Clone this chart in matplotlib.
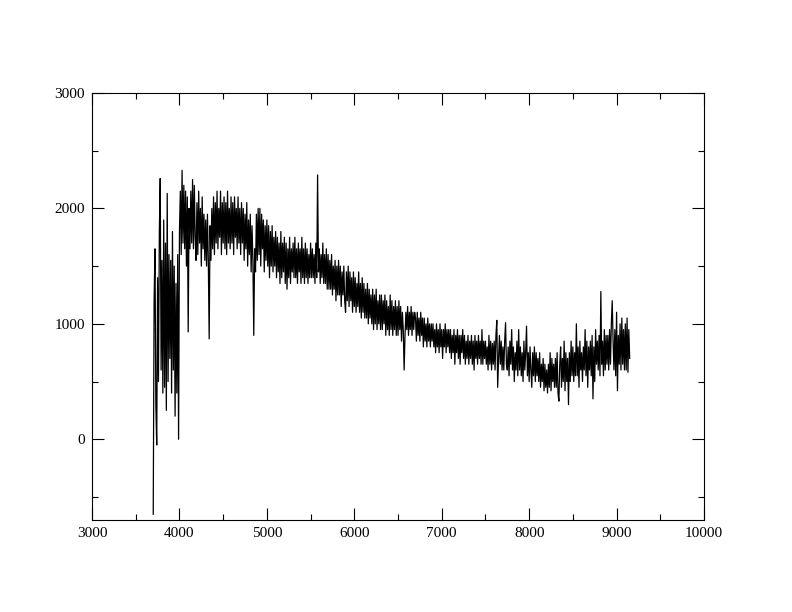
"""
Spectrum plot: flux vs wavelength, xmgrace-like look.
"""

import matplotlib
matplotlib.use("Agg")
import matplotlib.pyplot as plt
import numpy as np
from matplotlib.ticker import MultipleLocator

plt.rcParams["font.family"] = ["Liberation Serif", "DejaVu Serif"]

# ── data (10 A sampling starting at 3700 A) ──────────────────────────────────
WAVE_START = 3700
WAVE_STEP = 10

flux = [
    # 3700 - 3890
    -650, 1200, 1650, 300, -50, 1400, 500, 1800, 2260, 600,
    1550, 400, 1900, 450, 1700, 250, 2130, 500, 1600, 700,
    # 3900 - 4090
    1550, 400, 1800, 600, 1500, 200, 1350, 400, 1600, 0,
    1800, 2150, 1600, 2330, 1700, 2200, 1650, 2150, 1500, 2100,
    # 4100 - 4290
    930, 2000, 1650, 2150, 1700, 2250, 1650, 2200, 1750, 1550,
    2050, 1600, 2150, 1700, 2000, 1500, 2100, 1650, 1950, 1550,
    # 4300 - 4490
    1900, 1500, 1950, 1550, 870, 1850, 1550, 2000, 1650, 2100,
    1600, 2050, 1700, 2150, 1650, 2000, 1750, 2150, 1600, 2050,
    # 4500 - 4690
    1700, 2100, 1650, 2050, 1600, 2150, 1700, 2000, 1650, 2100,
    1700, 2050, 1600, 2100, 1750, 2000, 1650, 2100, 1700, 2000,
    # 4700 - 4890
    1600, 2050, 1700, 2000, 1550, 1950, 1650, 2050, 1500, 1900,
    1600, 1950, 1450, 1850, 1550, 900, 1650, 1450, 1950, 1550,
    # 4900 - 5090
    2000, 1600, 2000, 1500, 1950, 1650, 1900, 1450, 1850, 1550,
    1900, 1500, 1850, 1400, 1800, 1500, 1850, 1450, 1750, 1500,
    # 5100 - 5290
    1800, 1400, 1750, 1450, 1700, 1350, 1800, 1400, 1700, 1450,
    1750, 1350, 1700, 1300, 1650, 1400, 1750, 1350, 1650, 1450,
    # 5300 - 5490
    1700, 1400, 1750, 1400, 1650, 1350, 1700, 1450, 1650, 1350,
    1750, 1400, 1650, 1350, 1700, 1400, 1650, 1350, 1600, 1400,
    # 5500 - 5690
    1700, 1400, 1650, 1400, 1600, 1350, 1700, 1400, 2290, 1450,
    1650, 1350, 1600, 1400, 1700, 1350, 1600, 1350, 1650, 1300,
    # 5700 - 5890
    1600, 1300, 1550, 1300, 1600, 1250, 1500, 1300, 1550, 1200,
    1500, 1250, 1550, 1250, 1500, 1150, 1450, 1250, 1500, 1200,
    # 5900 - 6090
    1100, 1450, 1200, 1500, 1150, 1450, 1200, 1400, 1100, 1450,
    1150, 1400, 1100, 1350, 1150, 1450, 1100, 1350, 1050, 1400,
    # 6100 - 6290
    1100, 1350, 1050, 1300, 1050, 1350, 1000, 1300, 1050, 1250,
    1000, 1300, 950, 1250, 1000, 1300, 950, 1200, 1000, 1250,
    # 6300 - 6490
    950, 1250, 950, 1200, 1000, 1250, 900, 1200, 950, 1150,
    900, 1250, 950, 1200, 900, 1150, 950, 1200, 900, 1150,
    # 6500 - 6690
    900, 1200, 950, 1150, 850, 1100, 950, 600, 900, 1100,
    950, 1150, 900, 1100, 950, 1150, 900, 1100, 950, 1100,
    # 6700 - 6890
    1050, 850, 1100, 900, 1050, 850, 1100, 900, 1050, 800,
    1050, 850, 1000, 800, 1050, 850, 1000, 800, 1000, 850,
    # 6900 - 7090
    1000, 800, 950, 750, 1000, 800, 950, 750, 1000, 800,
    950, 700, 950, 800, 1000, 750, 950, 800, 950, 750,
    # 7100 - 7290
    950, 700, 900, 750, 950, 650, 900, 750, 950, 700,
    900, 650, 900, 750, 950, 700, 900, 650, 850, 700,
    # 7300 - 7490
    900, 650, 850, 700, 900, 650, 850, 600, 900, 700,
    850, 650, 900, 700, 850, 650, 950, 650, 850, 700,
    # 7500 - 7690
    850, 650, 800, 600, 900, 650, 850, 600, 830, 650,
    850, 600, 900, 1030, 450, 700, 900, 650, 850, 600,
    # 7700 - 7890
    800, 600, 850, 1010, 650, 600, 800, 550, 850, 650,
    950, 600, 800, 500, 750, 600, 850, 550, 950, 600,
    # 7900 - 8090
    800, 550, 750, 500, 850, 600, 750, 980, 550, 750,
    500, 800, 600, 450, 750, 550, 800, 500, 750, 550,
    # 8100 - 8290
    700, 500, 750, 450, 650, 500, 700, 420, 650, 450,
    600, 400, 650, 450, 750, 420, 700, 500, 650, 450,
    # 8300 - 8490
    700, 450, 750, 400, 330, 650, 800, 450, 700, 500,
    850, 420, 750, 500, 700, 300, 750, 500, 850, 550,
    # 8500 - 8690
    800, 500, 750, 550, 1000, 550, 800, 450, 850, 600,
    750, 500, 800, 600, 950, 550, 850, 450, 800, 600,
    # 8700 - 8890
    850, 550, 900, 350, 800, 500, 950, 650, 850, 600,
    900, 550, 1280, 650, 850, 550, 950, 600, 900, 650,
    # 8900 - 9090
    900, 600, 950, 650, 1000, 1200, 850, 600, 950, 550,
    1100, 420, 900, 650, 1000, 600, 1050, 650, 950, 600,
    # 9100 - 9150
    1000, 600, 1050, 580, 950, 700,
]

wave = WAVE_START + WAVE_STEP * np.arange(len(flux))

# ── plot ────────────────────────────────────────────────────────────────────
fig = plt.figure(figsize=(7.92, 6.12), dpi=100)
ax = fig.add_axes([0.1162, 0.1503, 0.7727, 0.6977])

ax.plot(wave, flux, color="black", linewidth=0.9)

ax.set_xlim(3000, 10000)
ax.set_ylim(-700, 3000)
ax.xaxis.set_major_locator(MultipleLocator(1000))
ax.xaxis.set_minor_locator(MultipleLocator(500))
ax.yaxis.set_major_locator(MultipleLocator(1000))
ax.yaxis.set_minor_locator(MultipleLocator(500))

ax.tick_params(which="both", direction="in", top=True, right=True,
               labelsize=11, width=0.8, pad=5)
ax.tick_params(which="major", length=8.5)
ax.tick_params(which="minor", length=4.5)
for s in ax.spines.values():
    s.set_linewidth(0.8)

fig.savefig("out.png", dpi=100)
plt.close(fig)
